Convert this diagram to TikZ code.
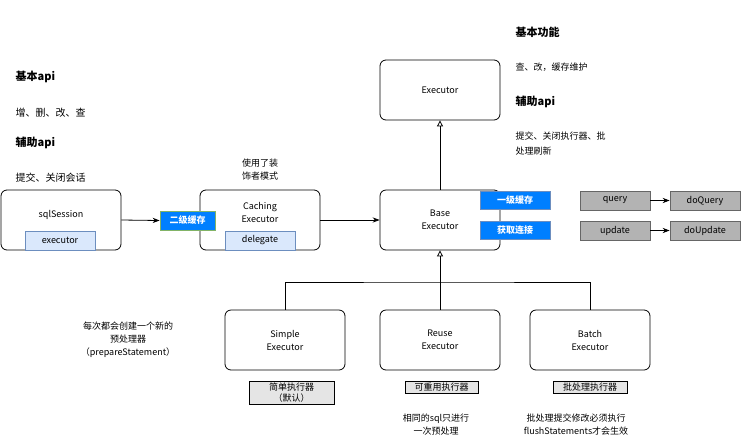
\documentclass[tikz,border=0pt]{standalone}
\usepackage{fontspec}
\setmainfont{Noto Sans CJK SC}
\usetikzlibrary{arrows.meta}
\definecolor{lblue}{HTML}{DAE8FC}
\definecolor{lbord}{HTML}{6C8EBF}
\definecolor{hblue}{HTML}{007FFF}
\definecolor{hgreen}{HTML}{82B366}
\definecolor{gfill}{HTML}{B3B3B3}
\tikzset{
  every path/.style={line width=0.8pt},
  box/.style={draw, rounded corners=6pt, minimum width=120pt, minimum height=60pt, align=center, font=\fontsize{9}{13}\selectfont},
  tag/.style={draw=lbord, fill=lblue, minimum width=70pt, minimum height=19pt, inner sep=0pt, font=\fontsize{9}{11}\selectfont},
  hot/.style={draw=lbord, fill=hblue, text=white, minimum width=70pt, minimum height=18pt, inner sep=0pt, font=\bfseries\fontsize{9}{11}\selectfont},
  func/.style={draw=black!60, fill=gfill, minimum width=70pt, minimum height=19pt, inner sep=0pt, font=\fontsize{9}{11}\selectfont},
  note/.style={draw, fill=black!10, align=center, inner sep=2pt, font=\fontsize{9}{11}\selectfont},
  txt/.style={align=center, font=\fontsize{9}{13}\selectfont},
  ltxt/.style={anchor=west, align=left, font=\fontsize{10}{13}\selectfont},
  head/.style={anchor=west, font=\bfseries\fontsize{11}{13}\selectfont},
  inherit/.style={-{Triangle[open,length=6pt,width=6pt]}},
  call/.style={-{Stealth[length=7pt]}}
}
\begin{document}
\begin{tikzpicture}[x=1pt, y=-1pt]
\useasboundingbox (0,0) rectangle (741,445);
% main boxes
\node[box, text depth=12pt] (sess) at (61,220) {sqlSession};
\node[box, text depth=16pt] (cache) at (260,220) {Caching\\Executor};
\node[box] (base) at (440,220) {Base\\Executor};
\node[box] (exec) at (440,90) {Executor};
\node[box] (simple) at (285,340) {Simple\\Executor};
\node[box] (reuse) at (440,340) {Reuse\\Executor};
\node[box] (batch) at (590,340) {Batch\\Executor};
% parts
\node[tag] (sessexec) at (60,240.5) {executor};
\node[tag] (deleg) at (260,240.5) {delegate};
\node[hot, draw=hgreen, minimum width=55pt, minimum height=19pt] (l2) at (187.5,220.5) {二级缓存};
\node[hot] (l1) at (515,200) {一级缓存};
\node[hot] (conn) at (515,230) {获取连接};
\node[func] (query) at (615,200.5) {query};
\node[func] (doquery) at (705,200.5) {doQuery};
\node[func] (update) at (615,230.5) {update};
\node[func] (doupdate) at (705,230.5) {doUpdate};
% connectors
\draw[call] (sess.east) -- (l2.west);
\draw[call] (cache.east) -- (base.west);
\draw[call] (query) -- (doquery);
\draw[call] (update) -- (doupdate);
\draw[inherit] (base.north) -- (exec.south);
\coordinate (fork) at (440,282);
\draw[inherit] (fork) -- (base.south);
\draw (simple.north) |- (fork) -| (batch.north);
\draw (reuse.north) -- (fork);
% notes
\node[note, minimum width=85pt] (n1) at (291.5,393) {简单执行器\\（默认）};
\node[note, minimum width=73pt] (n2) at (441.5,387.5) {可重用执行器};
\node[note, minimum width=74pt] (n3) at (590,387.5) {批处理执行器};
\node[txt] (t1) at (436,425) {相同的sql只进行\\一次预处理};
\node[txt] (t2) at (576,425) {批处理提交修改必须执行\\flushStatements才会生效};
\node[txt] (t3) at (128,340) {每次都会创建一个新的\\预处理器\\（prepareStatement）};
\node[txt] (t4) at (260,170) {使用了装\\饰者模式};
% texts left
\node[head] (h1) at (12,77) {基本api};
\node[ltxt] (h1t) at (12,113) {增、删、改、查};
\node[head] (h2) at (12,143) {辅助api};
\node[ltxt] (h2t) at (12,178) {提交、关闭会话};
% texts right
\node[head] (h3) at (512,32) {基本功能};
\node[ltxt, font=\fontsize{9}{11}\selectfont] (h3t) at (512,67) {查、改，缓存维护};
\node[head] (h4) at (512,102) {辅助api};
\node[ltxt, font=\fontsize{9}{15}\selectfont] (h4t) at (512,144) {提交、关闭执行器、批\\处理刷新};
\end{tikzpicture}
\end{document}
